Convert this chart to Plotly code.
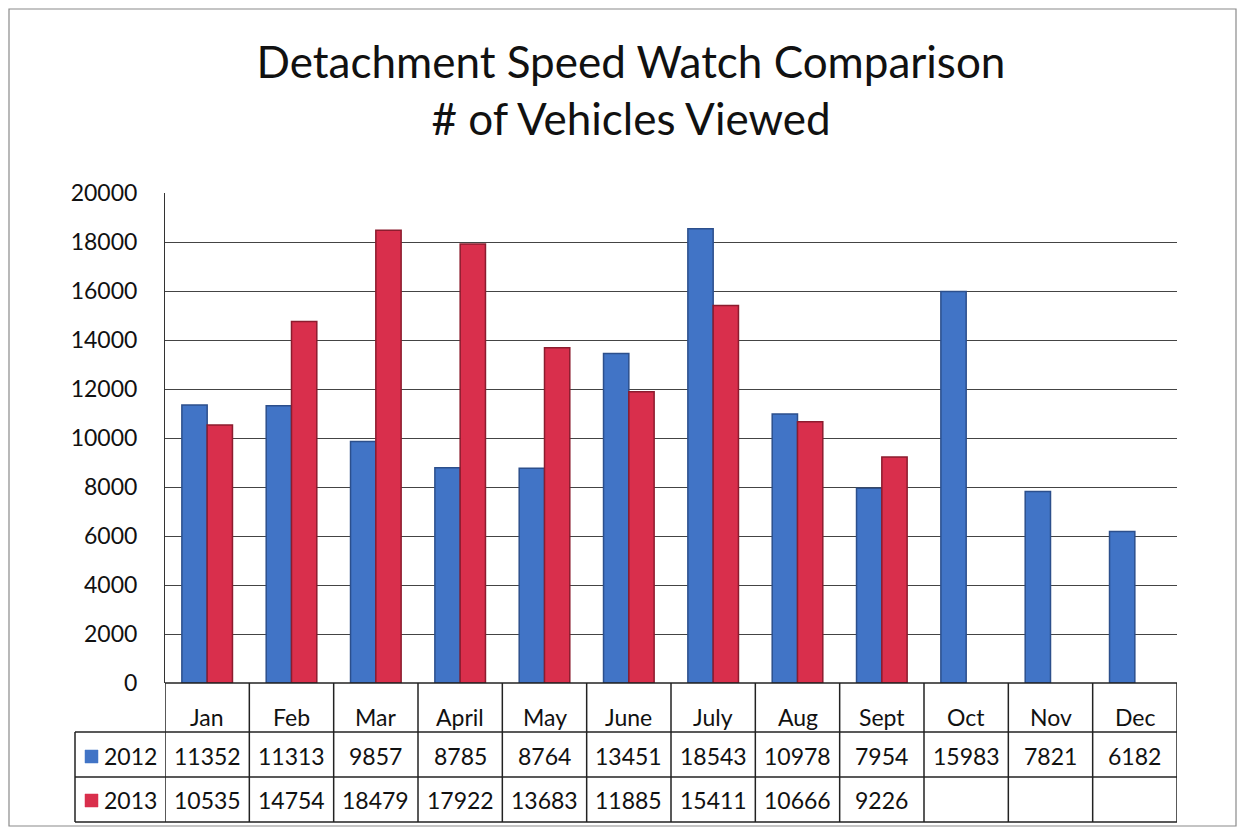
import plotly.graph_objects as go

months = ["Jan", "Feb", "Mar", "April", "May", "June", "July", "Aug", "Sept", "Oct", "Nov", "Dec"]
series_names = ["2012", "2013"]
vals_2012 = [11352, 11313, 9857, 8785, 8764, 13451, 18543, 10978, 7954, 15983, 7821, 6182]
vals_2013 = [10535, 14754, 18479, 17922, 13683, 11885, 15411, 10666, 9226, None, None, None]
y_ticks = [0, 2000, 4000, 6000, 8000, 10000, 12000, 14000, 16000, 18000, 20000]

colors = ["#4174c6", "#d92f4c"]
edge = ["#2c4f8c", "#8c1c2e"]
FONT = "Lato, 'Open Sans', 'DejaVu Sans', sans-serif"

OFF = 8  # default page body margin
W, H = 1230, 821
# plot area in page pixels
PL, PR, PT, PB = 165, 1177, 193, 683
L, R, T, B = PL - OFF, PR - OFF, PT - OFF, PB - OFF


def px(x):  # page pixel -> paper x
    return (x - PL) / (PR - PL)


def py(y):  # page pixel -> paper y
    return (PB - y) / (PB - PT)


fig = go.Figure()
for name, vals, c, e in zip(series_names, [vals_2012, vals_2013], colors, edge):
    fig.add_trace(go.Bar(
        x=list(range(len(months))), y=vals, name=name,
        marker=dict(color=c, line=dict(color=e, width=1.5)),
        hoverinfo="x+y+name",
    ))

shapes = []
annotations = []

# outer chart border
shapes.append(dict(type="rect", xref="paper", yref="paper",
                   x0=px(9), x1=px(1236), y0=py(826), y1=py(9),
                   line=dict(color="#8a8a8a", width=1.2), layer="below"))

# table rows (page pixel rows)
row_lines = [683, 732, 777, 822]
n = len(months)
LINE = dict(color="#222", width=1.5)
shapes.append(dict(type="line", xref="x", yref="paper", x0=-0.5, x1=n - 0.5,
                   y0=py(row_lines[0]), y1=py(row_lines[0]), line=LINE))
for yy in row_lines[1:]:
    shapes.append(dict(type="line", xref="paper", yref="paper", x0=px(75), x1=1.0,
                       y0=py(yy), y1=py(yy), line=LINE))
for i in range(n + 1):
    shapes.append(dict(type="line", xref="x", yref="paper", x0=i - 0.5, x1=i - 0.5,
                       y0=py(row_lines[-1]), y1=py(row_lines[0]), line=LINE))
shapes.append(dict(type="line", xref="paper", yref="paper", x0=px(75), x1=px(75),
                   y0=py(row_lines[-1]), y1=py(row_lines[1]), line=LINE))

# table text
TFONT = dict(size=23, color="#111", family=FONT)
row_centers = [717, 756, 800]
for i, m in enumerate(months):
    annotations.append(dict(x=i, y=py(row_centers[0]), xref="x", yref="paper", text=m,
                            xanchor="center", yanchor="middle", showarrow=False, font=TFONT))
    for vals, rc in [(vals_2012, row_centers[1]), (vals_2013, row_centers[2])]:
        if vals[i] is not None:
            annotations.append(dict(x=i, y=py(rc), xref="x", yref="paper", text=str(vals[i]),
                                    xanchor="center", yanchor="middle", showarrow=False, font=TFONT))
for name, c, rc in zip(series_names, colors, row_centers[1:]):
    shapes.append(dict(type="rect", xref="paper", yref="paper",
                       x0=px(85), x1=px(98), y0=py(rc + 7), y1=py(rc - 6),
                       fillcolor=c, line=dict(color=c, width=0.5)))
    annotations.append(dict(x=px(102), y=py(rc), xref="paper", yref="paper", text=name,
                            xanchor="left", yanchor="middle", showarrow=False, font=TFONT))

fig.update_layout(
    width=W, height=H,
    margin=dict(l=L, r=W - R, t=T, b=H - B, autoexpand=False),
    paper_bgcolor="white", plot_bgcolor="white",
    title=dict(text="Detachment Speed Watch Comparison<br># of Vehicles Viewed",
               x=px(631), xref="paper", xanchor="center", y=1 - (78 - OFF) / H, yanchor="middle",
               font=dict(size=44, color="#111", family=FONT)),
    barmode="group", bargap=0.4, bargroupgap=0.0,
    showlegend=False,
    xaxis=dict(range=[-0.5, n - 0.5], showticklabels=False, showgrid=False,
               zeroline=False, showline=False, fixedrange=True),
    yaxis=dict(range=[0, 20000], tickvals=y_ticks, ticktext=[str(v) for v in y_ticks],
               showgrid=True, gridcolor="#444", gridwidth=1, zeroline=False,
               showline=True, linecolor="#333", linewidth=1, ticks="", ticklabelstandoff=22,
               tickfont=dict(size=23, color="#111", family=FONT)),
    shapes=shapes, annotations=annotations,
)

fig.write_html("out.html")
